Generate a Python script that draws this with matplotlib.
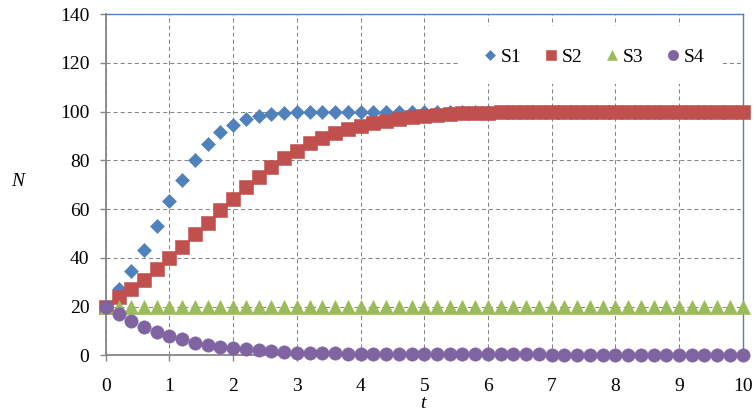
import numpy as np
import matplotlib
matplotlib.use("Agg")
import matplotlib.pyplot as plt
from matplotlib.patches import Rectangle

# time grid (step 0.2 from 0 to 10)
t = np.round(np.arange(51) * 0.2, 1)

s1 = [20.0, 27.2, 34.6, 43.2, 53.2, 63.4, 72.1, 80.3, 86.7, 91.7,
      94.5, 96.9, 98.2, 99.1, 99.5, 99.7, 99.8, 99.9, 99.9, 100.0,
      100.0, 100.0, 100.0, 100.0, 100.0, 100.0, 100.0, 100.0, 100.0, 100.0,
      100.0, 100.0, 100.0, 100.0, 100.0, 100.0, 100.0, 100.0, 100.0, 100.0,
      100.0, 100.0, 100.0, 100.0, 100.0, 100.0, 100.0, 100.0, 100.0, 100.0,
      100.0]

s2 = [20.0, 24.0, 27.1, 30.9, 35.3, 39.8, 44.6, 49.6, 54.4, 59.5,
      64.3, 68.9, 73.2, 77.2, 80.8, 84.0, 86.9, 89.1, 91.0, 92.7,
      94.2, 95.3, 96.2, 97.0, 97.7, 98.2, 98.6, 98.9, 99.2, 99.4,
      99.5, 99.6, 99.7, 99.8, 99.8, 99.9, 99.9, 99.9, 99.9, 100.0,
      100.0, 100.0, 100.0, 100.0, 100.0, 100.0, 100.0, 100.0, 100.0, 100.0,
      100.0]

s3 = [20.0, 20.0, 20.0, 20.0, 20.0, 20.0, 20.0, 20.0, 20.0, 20.0,
      20.0, 20.0, 20.0, 20.0, 20.0, 20.0, 20.0, 20.0, 20.0, 20.0,
      20.0, 20.0, 20.0, 20.0, 20.0, 20.0, 20.0, 20.0, 20.0, 20.0,
      20.0, 20.0, 20.0, 20.0, 20.0, 20.0, 20.0, 20.0, 20.0, 20.0,
      20.0, 20.0, 20.0, 20.0, 20.0, 20.0, 20.0, 20.0, 20.0, 20.0,
      20.0]

s4 = [20.0, 17.0, 14.1, 11.8, 9.6, 7.9, 6.6, 5.2, 4.4, 3.6,
      2.9, 2.5, 2.1, 1.6, 1.4, 1.1, 1.0, 0.9, 0.8, 0.7,
      0.6, 0.6, 0.5, 0.5, 0.5, 0.4, 0.4, 0.4, 0.4, 0.4,
      0.4, 0.4, 0.4, 0.4, 0.4, 0.3, 0.3, 0.3, 0.3, 0.3,
      0.3, 0.3, 0.3, 0.3, 0.3, 0.3, 0.3, 0.3, 0.3, 0.3,
      0.3]

series = ["S1", "S2", "S3", "S4"]
x_ticks = [0, 1, 2, 3, 4, 5, 6, 7, 8, 9, 10]
y_ticks = [0, 20, 40, 60, 80, 100, 120, 140]

colors = ["#4F81BD", "#C0504D", "#9BBB59", "#8064A2"]
markers = ["D", "s", "^", "o"]
msizes = [7.1, 9.8, 9.9, 9.6]
GRAY = "#868686"

plt.rcParams["font.family"] = ["Liberation Serif", "DejaVu Serif"]
plt.rcParams["font.size"] = 14

W, H = 756, 416
fig = plt.figure(figsize=(W / 100, H / 100), dpi=100)
x0, x1, ytop, ybot = 105.8, 742.7, 14.0, 355.3
ax = fig.add_axes([x0 / W, (H - ybot) / H, (x1 - x0) / W, (ybot - ytop) / H])

ax.set_xlim(0, 10)
ax.set_ylim(0, 140)
ax.set_xticks(x_ticks)
ax.set_yticks(y_ticks)
ax.set_axisbelow(True)
ax.grid(True, color=GRAY, linewidth=0.75, linestyle=(0, (3.9, 2.9)))

for side in ("left", "bottom"):
    ax.spines[side].set_color(GRAY)
    ax.spines[side].set_linewidth(1.3)
for side in ("top", "right"):
    ax.spines[side].set_color("#4F81BD")
    ax.spines[side].set_linewidth(1.0)

ax.tick_params(axis="both", direction="out", length=4.3, width=1.0,
               color=GRAY, labelsize=14, labelcolor="black")
ax.tick_params(axis="y", pad=7.5)
ax.tick_params(axis="x", pad=12)

# white backing behind the legend
ax.add_patch(Rectangle((0.556, 0.795), 0.413, 0.17, transform=ax.transAxes,
                       facecolor="white", edgecolor="none", zorder=1))

data = [s1, s2, s3, s4]
for i, (name, vals) in enumerate(zip(series, data)):
    ax.plot(t, vals, linestyle="none", marker=markers[i], markersize=msizes[i],
            color=colors[i], markeredgecolor=colors[i], markeredgewidth=0.4,
            label=name, clip_on=False, zorder=3 + i)

ax.legend(loc="center", bbox_to_anchor=(0.7675, 0.874), ncol=4, frameon=False,
          fontsize=14, markerscale=0.78, handlelength=0.6, handletextpad=0.25,
          columnspacing=1.22, borderpad=0, borderaxespad=0)

fig.text(18 / W, 1 - 182 / H, "N", style="italic", fontsize=14,
         ha="center", va="center")
fig.text(423 / W, 1 - 404 / H, "t", style="italic", fontsize=14,
         ha="center", va="center")

fig.savefig("out.png", dpi=100)
